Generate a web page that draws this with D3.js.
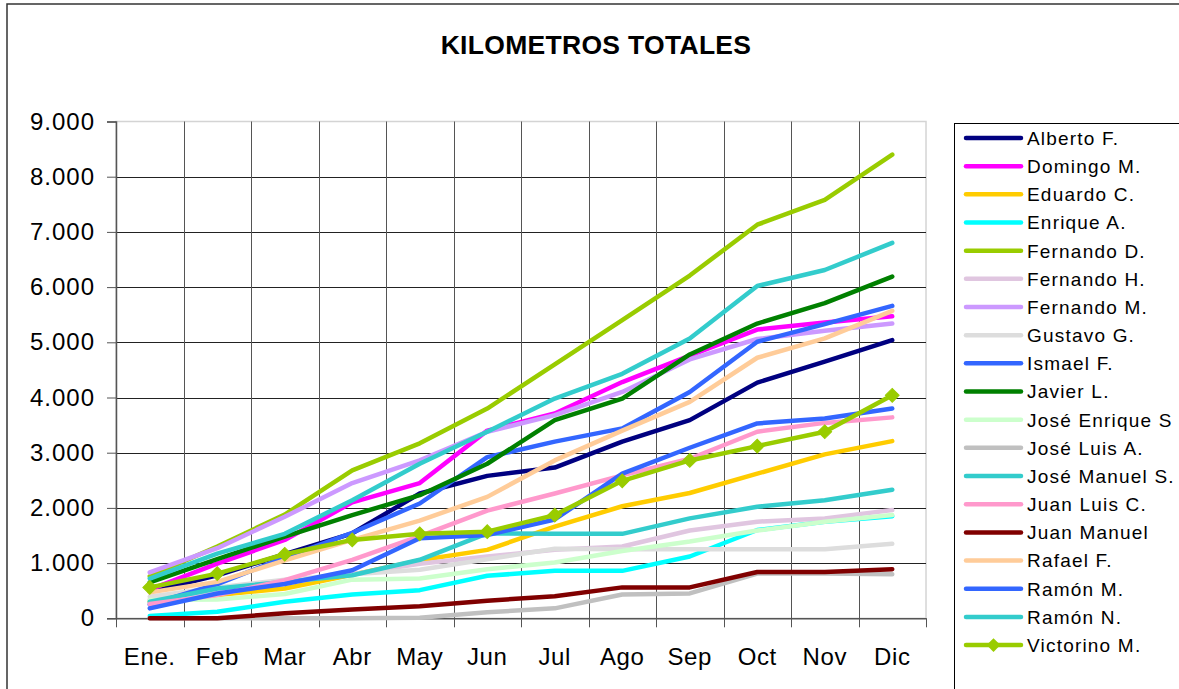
<!DOCTYPE html>
<html>
<head>
<meta charset="utf-8">
<script src="https://cdn.jsdelivr.net/npm/d3@7"></script>
<style>
  html, body { margin: 0; padding: 0; background: #fff; }
  svg { display: block; font-family: "Liberation Sans", Arial, sans-serif; }
</style>
</head>
<body>
<svg id="chart" width="1179" height="689"></svg>
<script>
// ---------- data ----------
const months = ["Ene.", "Feb", "Mar", "Abr", "May", "Jun", "Jul", "Ago", "Sep", "Oct", "Nov", "Dic"];
const yTicks = [0, 1000, 2000, 3000, 4000, 5000, 6000, 7000, 8000, 9000];

const albertoF     = [480, 780, 1160, 1540, 2260, 2580, 2730, 3200, 3590, 4270, 4650, 5040];
const domingoM     = [520, 990, 1420, 2100, 2450, 3400, 3710, 4280, 4760, 5230, 5360, 5470];
const eduardoC     = [300, 420, 540, 790, 1050, 1240, 1660, 2030, 2270, 2620, 2970, 3210];
const enriqueA     = [40, 120, 300, 430, 510, 770, 860, 860, 1120, 1600, 1750, 1850];
const fernandoD    = [760, 1300, 1880, 2680, 3170, 3800, 4600, 5400, 6210, 7130, 7580, 8400];
const fernandoH    = [340, 480, 650, 800, 990, 1120, 1240, 1300, 1590, 1750, 1810, 1960];
const fernandoM    = [830, 1270, 1840, 2450, 2860, 3380, 3680, 4100, 4690, 5060, 5210, 5340];
const gustavoG     = [390, 560, 700, 800, 880, 1070, 1260, 1250, 1250, 1250, 1250, 1350];
const ismaelF      = [250, 620, 1100, 1550, 2080, 2920, 3200, 3440, 4100, 5010, 5330, 5660];
const javierL      = [650, 1070, 1480, 1870, 2230, 2800, 3590, 3980, 4780, 5340, 5710, 6190];
const joseEnriqueS = [330, 340, 440, 700, 720, 890, 1010, 1220, 1390, 1590, 1750, 1870];
const joseLuisA    = [0, 0, 0, 0, 10, 110, 180, 430, 450, 810, 810, 800];
const joseManuelS  = [300, 540, 660, 780, 1060, 1540, 1530, 1530, 1810, 2020, 2140, 2330];
const juanLuisC    = [260, 420, 690, 1060, 1490, 1950, 2260, 2590, 2890, 3380, 3540, 3640];
const juanManuel   = [0, 0, 90, 160, 220, 320, 400, 560, 560, 840, 840, 890];
const rafaelF      = [470, 660, 1050, 1420, 1770, 2200, 2860, 3400, 3920, 4720, 5070, 5570];
const ramonM       = [180, 450, 620, 870, 1450, 1510, 1790, 2620, 3090, 3530, 3620, 3800];
const ramonN       = [720, 1170, 1530, 2140, 2800, 3380, 3980, 4430, 5070, 6020, 6310, 6800];
const victorinoM   = [560, 810, 1160, 1420, 1530, 1570, 1870, 2490, 2860, 3120, 3380, 4040];

const seriesNames = ["Alberto F.", "Domingo M.", "Eduardo C.", "Enrique A.", "Fernando D.", "Fernando H.",
  "Fernando M.", "Gustavo G.", "Ismael F.", "Javier L.", "José Enrique S", "José Luis A.",
  "José Manuel S.", "Juan Luis C.", "Juan Manuel", "Rafael F.", "Ramón M.", "Ramón N.", "Victorino M."];
const seriesValues = [albertoF, domingoM, eduardoC, enriqueA, fernandoD, fernandoH, fernandoM, gustavoG,
  ismaelF, javierL, joseEnriqueS, joseLuisA, joseManuelS, juanLuisC, juanManuel, rafaelF, ramonM, ramonN, victorinoM];
const seriesColors = ["#000080", "#FF00FF", "#FFCC00", "#00FFFF", "#99CC00", "#E0C6E0",
  "#CC99FF", "#DDDDDD", "#3366FF", "#008000", "#CCFFCC", "#C0C0C0",
  "#33CCCC", "#FF99CC", "#800000", "#FFCC99", "#3366FF", "#33CCCC", "#99CC00"];
const markerSeries = ["Victorino M."];

const series = seriesNames.map((name, i) => ({ name, values: seriesValues[i], color: seriesColors[i] }));

// ---------- layout ----------
const svg = d3.select("#chart");
const plot = { left: 116, right: 926, top: 121.5, bottom: 618.3 };

// outer chart border
svg.append("rect").attr("x", 7).attr("y", 4).attr("width", 1250).attr("height", 760)
  .attr("fill", "#fff").attr("stroke", "#333").attr("stroke-width", 1.5);

// title
svg.append("text").attr("x", 596).attr("y", 54).attr("text-anchor", "middle")
  .attr("font-size", 26.5).attr("font-weight", "bold").attr("letter-spacing", 0.3).attr("fill", "#000")
  .text("KILOMETROS TOTALES");

const x = d3.scaleBand().domain(months).range([plot.left, plot.right]).padding(0);
const y = d3.scaleLinear().domain([0, 9000]).range([plot.bottom, plot.top]);
const cx = m => x(m) + x.bandwidth() / 2;

const loc = d3.formatLocale({ decimal: ",", thousands: ".", grouping: [3], currency: ["", ""] });
const fmt = loc.format(",");

// plot area border (light)
svg.append("rect").attr("x", plot.left).attr("y", plot.top)
  .attr("width", plot.right - plot.left).attr("height", plot.bottom - plot.top)
  .attr("fill", "#fff").attr("stroke", "#d4d4d4").attr("stroke-width", 1.5);

// horizontal gridlines
svg.append("g").selectAll("line").data(yTicks.filter(t => t > 0 && t < 9000)).join("line")
  .attr("x1", plot.left).attr("x2", plot.right)
  .attr("y1", d => Math.round(y(d)) + 0.5).attr("y2", d => Math.round(y(d)) + 0.5)
  .attr("stroke", "#222").attr("stroke-width", 1);

// vertical gridlines at band boundaries
svg.append("g").selectAll("line").data(months.slice(1)).join("line")
  .attr("x1", d => Math.round(x(d)) + 0.5).attr("x2", d => Math.round(x(d)) + 0.5)
  .attr("y1", plot.top).attr("y2", plot.bottom)
  .attr("stroke", "#555").attr("stroke-width", 1);

// y axis
const yAxis = svg.append("g").attr("transform", `translate(${plot.left},0)`)
  .call(d3.axisLeft(y).tickValues(yTicks).tickFormat(fmt).tickSize(9).tickPadding(12));
yAxis.select(".domain").attr("stroke", "#555").attr("stroke-width", 1.5);
yAxis.selectAll(".tick line").attr("stroke", "#555");
yAxis.selectAll("text").attr("font-size", 24).attr("fill", "#000")
  .attr("font-family", "'Liberation Sans', Arial, sans-serif").attr("letter-spacing", 1);

// x axis
const xAxis = svg.append("g").attr("transform", `translate(0,${plot.bottom})`)
  .call(d3.axisBottom(x).tickSize(0).tickPadding(30));
xAxis.select(".domain").attr("stroke", "#555").attr("stroke-width", 1.5);
xAxis.selectAll("text").attr("font-size", 24).attr("fill", "#000")
  .attr("font-family", "'Liberation Sans', Arial, sans-serif").attr("letter-spacing", 0.6);
// boundary ticks
const boundaries = months.map(m => x(m)).concat([plot.right]);
xAxis.append("g").selectAll("line").data(boundaries).join("line")
  .attr("x1", d => Math.round(d) + 0.5).attr("x2", d => Math.round(d) + 0.5)
  .attr("y1", 0).attr("y2", 9).attr("stroke", "#555");

// lines
const line = d3.line().x((d, i) => cx(months[i])).y(d => y(d));
const gLines = svg.append("g");
series.forEach(s => {
  gLines.append("path").datum(s.values)
    .attr("d", line).attr("fill", "none")
    .attr("stroke", s.color).attr("stroke-width", 4.5)
    .attr("stroke-linejoin", "round").attr("stroke-linecap", "round");
  if (markerSeries.includes(s.name)) {
    gLines.append("g").selectAll("path").data(s.values).join("path")
      .attr("d", d3.symbol(d3.symbolSquare, 95))
      .attr("transform", (d, i) => `translate(${cx(months[i])},${y(d)}) rotate(45)`)
      .attr("fill", s.color).attr("stroke", s.color).attr("stroke-width", 1);
  }
});

// legend
const leg = svg.append("g");
leg.append("rect").attr("x", 954.5).attr("y", 123.5).attr("width", 300).attr("height", 620)
  .attr("fill", "#fff").attr("stroke", "#000").attr("stroke-width", 1);
const rowY = i => 138 + i * 28.17;
series.forEach((s, i) => {
  const g = leg.append("g").attr("transform", `translate(0,${rowY(i)})`);
  g.append("line").attr("x1", 966).attr("x2", 1021).attr("y1", 0).attr("y2", 0)
    .attr("stroke", s.color).attr("stroke-width", 4.5).attr("stroke-linecap", "round");
  if (markerSeries.includes(s.name)) {
    g.append("path").attr("d", d3.symbol(d3.symbolSquare, 95))
      .attr("transform", "translate(993.5,0) rotate(45)").attr("fill", s.color);
  }
  g.append("text").attr("x", 1027).attr("y", 0).attr("dy", "0.36em")
    .attr("font-size", 19).attr("letter-spacing", 1.2).attr("fill", "#000").text(s.name);
});
</script>
</body>
</html>
